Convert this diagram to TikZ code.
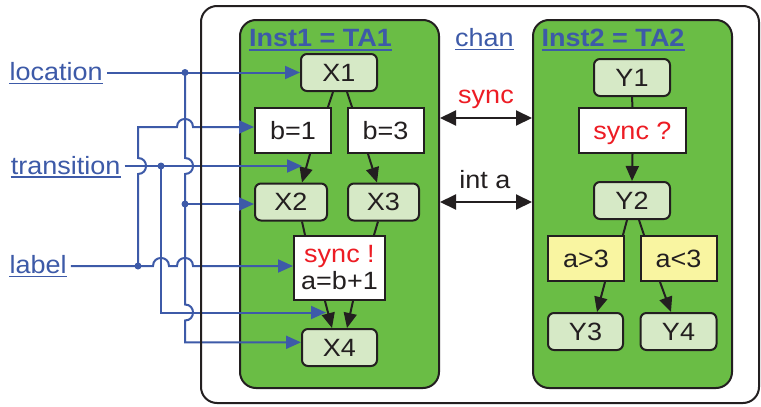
\documentclass[tikz,border=0pt]{standalone}
\usepackage{fontspec}
\setmainfont{Liberation Sans}[FakeStretch=1.08]
\usetikzlibrary{arrows.meta}
\definecolor{tagreen}{RGB}{106,189,69}
\definecolor{locfill}{RGB}{214,233,198}
\definecolor{guardfill}{RGB}{249,245,161}
\definecolor{wireblue}{RGB}{61,90,168}
\definecolor{ink}{RGB}{35,31,32}
\definecolor{syncred}{RGB}{237,28,36}
\begin{document}
\begin{tikzpicture}[x=1pt, y=-1pt,
  txt/.style={font=\fontsize{25}{27}\selectfont, text=ink, inner sep=0pt},
  boxbase/.style={txt, draw=ink, line width=2pt},
  oneline/.style={text height=17.9pt, text depth=0pt},
  loc/.style={boxbase, oneline, fill=locfill, rounded corners=6pt, minimum width=76pt, minimum height=37pt},
  guard/.style={boxbase, oneline, fill=white, minimum width=76pt, minimum height=45pt},
  cond/.style={guard, fill=guardfill},
  tabox/.style={draw=ink, line width=2pt, fill=tagreen, rounded corners=16pt, minimum width=199pt, minimum height=368pt, inner sep=0pt},
  link/.style={draw=ink, line width=2pt},
  tarrow/.style={link, -{Triangle[length=15pt,width=13pt]}},
  chanlink/.style={link, {Triangle[length=16pt,width=15pt]}-{Triangle[length=16pt,width=15pt]}},
  wire/.style={draw=wireblue, line width=2pt},
  feed/.style={wire, -{Triangle[length=15pt,width=13pt]}},
  bluetext/.style={txt, text=wireblue, anchor=base west},
  tatitle/.style={bluetext, font=\fontsize{25}{27}\selectfont\bfseries},
  uline/.style={draw=wireblue, line width=1.6pt},
]
\useasboundingbox (0,0) rectangle (761,407);
\fill[white] (0,0) rectangle (761,407);

% the two automata
\node[tabox] (ta1) at (339.5,204) {};
\node[tabox] (ta2) at (632.5,204) {};

\node[tatitle] (t1) at (249,46) {Inst1 = TA1};
\node[tatitle] (t2) at (541.5,46) {Inst2 = TA2};
\draw[uline, line width=2pt] ([yshift=-3.5pt]t1.base west) -- ([yshift=-3.5pt]t1.base east);
\draw[uline, line width=2pt] ([yshift=-3.5pt]t2.base west) -- ([yshift=-3.5pt]t2.base east);

% TA1 locations and transitions
\node[loc] (X1) at (339,72.5) {X1};
\node[guard] (b1) at (293,130.5) {b=1};
\node[guard] (b3) at (385.5,130.5) {b=3};
\node[loc, minimum width=72pt] (X2) at (291,202) {X2};
\node[loc, minimum width=71pt] (X3) at (383.5,202) {X3};
\node[boxbase, fill=white, minimum width=91pt, minimum height=64pt, align=center] (sb) at (339.5,268)
  {\textcolor{syncred}{sync !}\\a=b+1};
\node[loc, minimum width=75pt] (X4) at (339.5,347.5) {X4};

\draw[link] ([xshift=-6pt]X1.south) -- ([xshift=35pt]b1.north);
\draw[link] ([xshift=8pt]X1.south) -- ([xshift=-33.5pt]b3.north);
\draw[tarrow] ([xshift=17pt]b1.south) -- ([xshift=11pt]X2.north);
\draw[tarrow] ([xshift=-17.5pt]b3.south) -- ([xshift=-6.5pt]X3.north);
\draw[link] ([xshift=11pt]X2.south) -- ([xshift=-34.5pt]sb.north);
\draw[link] ([xshift=-5.5pt]X3.south) -- ([xshift=34.5pt]sb.north);
\draw[tarrow] ([xshift=-14.5pt]sb.south) -- ([xshift=-7.5pt]X4.north);
\draw[tarrow] ([xshift=13.5pt]sb.south) -- ([xshift=7.5pt]X4.north);

% TA2 locations and transitions
\node[loc] (Y1) at (632,77.5) {Y1};
\node[guard, minimum width=107pt, text=syncred] (ss) at (632.5,130.5) {sync ?};
\node[loc] (Y2) at (632,200.5) {Y2};
\node[cond] (ag) at (586,258.5) {a>3};
\node[cond] (al) at (678.5,258.5) {a<3};
\node[loc, minimum width=75pt] (Y3) at (585.5,331.5) {Y3};
\node[loc] (Y4) at (678.5,331.5) {Y4};

\draw[link] (Y1.south) -- (ss.north);
\draw[tarrow] (ss.south) -- (Y2.north);
\draw[link] ([xshift=-5pt]Y2.south) -- ([xshift=37pt]ag.north);
\draw[link] ([xshift=7pt]Y2.south) -- ([xshift=-34.5pt]al.north);
\draw[tarrow] ([xshift=19pt]ag.south) -- ([xshift=11.5pt]Y3.north);
\draw[tarrow] ([xshift=-18.5pt]al.south) -- ([xshift=-7.5pt]Y4.north);

% channels between the automata
\node[bluetext] (chan) at (455,46) {chan};
\draw[uline] ([yshift=-3.5pt]chan.base west) -- ([yshift=-3.5pt]chan.base east);
\node[txt, text=syncred, anchor=base] (chsync) at (486,103) {sync};
\node[txt, anchor=base] (chint) at (485,188) {int a};
\coordinate (rowsync) at (486,118);
\coordinate (rowint) at (486,202);
\draw[chanlink] (rowsync -| ta1.east) -- (rowsync -| ta2.west);
\draw[chanlink] (rowint -| ta1.east) -- (rowint -| ta2.west);

% concept labels
\node[bluetext] (location) at (9.4,80.5) {location};
\node[bluetext] (transition) at (10.6,174) {transition};
\node[bluetext] (label) at (9.4,273) {label};
\draw[uline] ([yshift=-3pt]location.base west) -- ([yshift=-3pt]location.base east);
\draw[uline] ([yshift=-3pt]transition.base west) -- ([yshift=-3pt]transition.base east);
\draw[uline] ([yshift=-3.5pt]label.base west) -- ([yshift=-3.5pt]label.base east);
\coordinate (ls) at ([xshift=4pt]location.east);
\coordinate (ts) at ([xshift=4pt]transition.east);
\coordinate (lbs) at ([xshift=4pt]label.east);

% junctions and free arrow ends
\coordinate (jl) at (185,72.5);
\coordinate (jx2) at (185,204);
\coordinate (jx4) at (185,342.3);
\coordinate (jt) at (161,166);
\coordinate (jlab) at (138,266);
\coordinate (jb1) at (138,127);
\coordinate (tipA) at (302,166);
\coordinate (tipB) at (326,312.5);

% location feeds
\draw[feed] (ls |- jl) -- (jl -| X1.west);
\draw[feed] (jl) -- (185,158) .. controls (195.7,158) and (195.7,174) .. (185,174)
  -- (185,304.5) .. controls (195.7,304.5) and (195.7,320.5) .. (185,320.5)
  -- (jx4) -- (jx4 -| X4.west);
\draw[feed] (jx2) -- (jx2 -| X2.west);

% transition feeds
\draw[feed] (ts |- jt) -- (tipA);
\draw[feed] (jt) -- (jt |- tipB) -- (tipB);

% label feeds
\draw[feed] (lbs |- jlab) -- (153,266) .. controls (153,255.3) and (169,255.3) .. (169,266)
  -- (177,266) .. controls (177,255.3) and (193,255.3) .. (193,266) -- (jlab -| sb.west);
\draw[feed] (jlab) -- (138,174) .. controls (148.7,174) and (148.7,158) .. (138,158)
  -- (jb1) -- (177,127) .. controls (177,116.3) and (193,116.3) .. (193,127) -- (jb1 -| b1.west);

\foreach \j in {jl,jx2,jt,jlab} \fill[wireblue] (\j) circle[radius=3.5pt];

% the enclosing system
\node[draw=ink, line width=2pt, rounded corners=16pt, minimum width=558pt, minimum height=397pt, inner sep=0pt]
  (system) at (480,204.5) {};
\end{tikzpicture}
\end{document}
